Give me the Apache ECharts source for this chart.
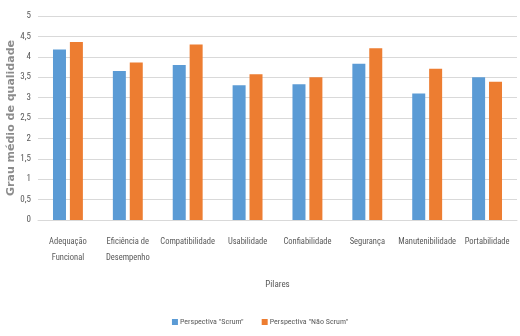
<!DOCTYPE html>
<html>
<head>
<meta charset="utf-8">
<script src="https://cdn.jsdelivr.net/npm/echarts@6/dist/echarts.min.js"></script>
<style>
  html, body { margin: 0; padding: 0; background: #ffffff; }
  #chart { width: 520px; height: 336px; }
</style>
</head>
<body>
<div id="chart"></div>
<script>
// Quality pillars and the mean quality grade from each perspective
const pillars = [
  'Adequação\nFuncional',
  'Eficiência de\nDesempenho',
  'Compatibilidade',
  'Usabilidade',
  'Confiabilidade',
  'Segurança',
  'Manutenibilidade',
  'Portabilidade'
];
const scrumValues    = [4.18, 3.65, 3.80, 3.30, 3.33, 3.83, 3.10, 3.50];
const notScrumValues = [4.36, 3.86, 4.30, 3.57, 3.50, 4.21, 3.71, 3.39];
const seriesNames = ['Perspectiva "Scrum"', 'Perspectiva "Não Scrum"'];

// Pick the first condensed face that is actually installed
function pickFont(candidates, fallback) {
  const ctx = document.createElement('canvas').getContext('2d');
  const sample = 'Compatibilidade Manutenibilidade';
  ctx.font = '20px monospace';
  const mono = ctx.measureText(sample).width;
  ctx.font = '20px serif';
  const serif = ctx.measureText(sample).width;
  for (const name of candidates) {
    ctx.font = '20px "' + name + '", monospace';
    const a = ctx.measureText(sample).width;
    ctx.font = '20px "' + name + '", serif';
    const b = ctx.measureText(sample).width;
    if (a !== mono || b !== serif) return { name: name, found: true };
  }
  return { name: fallback, found: false };
}
const picked = pickFont(
  ['Liberation Sans Narrow', 'Arial Narrow', 'Roboto Condensed', 'Open Sans Condensed', 'DejaVu Sans Condensed'],
  'Liberation Sans'
);
const narrow = '"' + picked.name + '", sans-serif';
const labelSize = picked.found ? 8.5 : 7.5;
const labelGray = '#595959';

const chart = echarts.init(document.getElementById('chart'));
chart.setOption({
  animation: false,
  textStyle: { fontFamily: narrow },
  grid: {
    left: 38, right: 3, top: 16, bottom: 116,
    containLabel: false,
    outerBoundsMode: 'none'
  },
  legend: {
    top: 313,
    left: 'center',
    itemWidth: 6,
    itemHeight: 6,
    itemGap: 18,
    icon: 'rect',
    textStyle: { color: labelGray, fontSize: labelSize - 0.5, fontFamily: narrow, padding: [0, 0, 0, -3] },
    data: seriesNames
  },
  xAxis: {
    type: 'category',
    data: pillars,
    name: 'Pilares',
    nameLocation: 'middle',
    nameGap: 60,
    nameMoveOverlap: false,
    nameTextStyle: { color: labelGray, fontSize: labelSize + 0.5, fontFamily: narrow },
    axisLine: { lineStyle: { color: '#d9d9d9' } },
    axisTick: { show: false },
    axisLabel: { color: labelGray, fontSize: labelSize, margin: 14, lineHeight: 16, interval: 0, fontFamily: narrow }
  },
  yAxis: {
    type: 'value',
    min: 0,
    max: 5,
    interval: 0.5,
    name: 'Grau médio de qualidade',
    nameLocation: 'middle',
    nameGap: 21,
    nameMoveOverlap: false,
    nameRotate: 90,
    nameTextStyle: { color: '#8c8c8c', fontSize: 11, fontWeight: 'bold', fontFamily: '"DejaVu Sans", sans-serif' },
    axisLabel: {
      color: labelGray,
      fontSize: labelSize + 0.5,
      margin: 7,
      fontFamily: narrow,
      formatter: v => String(v).replace('.', ',')
    },
    splitLine: { lineStyle: { color: '#d9d9d9' } },
    axisLine: { show: false },
    axisTick: { show: false }
  },
  series: [
    {
      name: seriesNames[0],
      type: 'bar',
      data: scrumValues,
      barWidth: 13,
      barGap: '30%',
      itemStyle: { color: '#5b9bd5' }
    },
    {
      name: seriesNames[1],
      type: 'bar',
      data: notScrumValues,
      barWidth: 13,
      barGap: '30%',
      itemStyle: { color: '#ed7d31' }
    }
  ]
});
</script>
</body>
</html>
